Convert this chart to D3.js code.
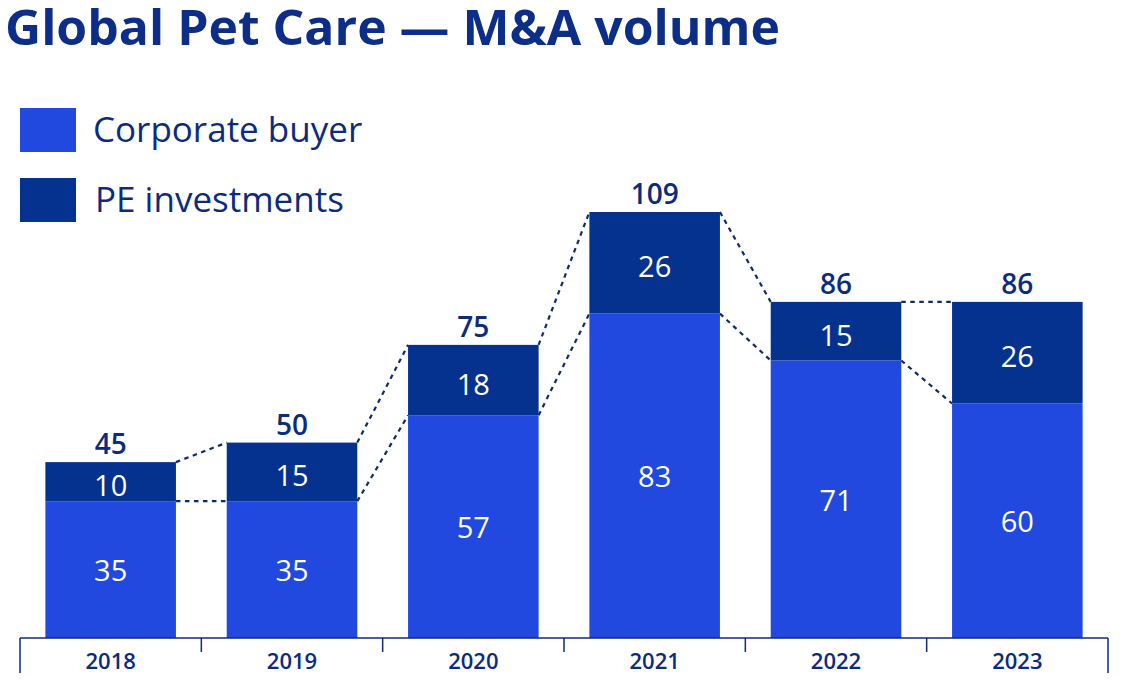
<!DOCTYPE html>
<html><head><meta charset="utf-8">
<script src="https://cdn.jsdelivr.net/npm/d3@7"></script>
<style>body{margin:0;background:#fff}svg{display:block;font-family:"Open Sans",sans-serif}</style>
</head><body><svg id="c" width="1125" height="682"></svg>
<script>
const years = ["2018","2019","2020","2021","2022","2023"];
const corporate = [35,35,57,83,71,60];
const pe = [10,15,18,26,15,26];
const totals = [45,50,75,109,86,86];
const seriesNames = ["Corporate buyer","PE investments"];
const colors = ["#2149E0","#05318F"];
const navy = "#0B2B80";

const svg = d3.select("#c");
const x = d3.scaleBand().domain(years).range([20,1108]).paddingInner(0.28).paddingOuter(0.14);
const y = d3.scaleLinear().domain([0,109]).range([638,212]);

svg.append("text").attr("x",5).attr("y",45).attr("fill","#0C2E88")
  .attr("font-weight",700).attr("font-size",48)
  .attr("textLength",775).attr("lengthAdjust","spacingAndGlyphs")
  .text("Global Pet Care — M&A volume");

// legend
seriesNames.forEach((n,i)=>{
  const yy = 108 + i*70;
  svg.append("rect").attr("x",20).attr("y",yy).attr("width",56).attr("height",44).attr("fill",colors[i]);
  svg.append("text").attr("x",i?95:93).attr("y",yy+34).attr("fill",navy).attr("font-size",35).text(n);
});

const data = years.map((yr,i)=>({yr, c:corporate[i], p:pe[i], t:totals[i]}));

// connectors
const bw = x.bandwidth();
for(let i=0;i<data.length-1;i++){
  const a=data[i], b=data[i+1];
  [[a.t,b.t],[a.c,b.c]].forEach(([v1,v2])=>{
    svg.append("line").attr("x1",x(a.yr)+bw).attr("y1",y(v1)).attr("x2",x(b.yr)).attr("y2",y(v2))
      .attr("stroke","#0B2B6E").attr("stroke-width",2.2).attr("stroke-dasharray","4.5,4.5");
  });
}

// bars
const g = svg.append("g");
g.selectAll(".c").data(data).join("rect").attr("x",d=>x(d.yr)).attr("width",bw)
  .attr("y",d=>y(d.c)).attr("height",d=>y(0)-y(d.c)).attr("fill",colors[0]);
g.selectAll(".p").data(data).join("rect").attr("x",d=>x(d.yr)).attr("width",bw)
  .attr("y",d=>y(d.t)).attr("height",d=>y(d.c)-y(d.t)).attr("fill",colors[1]);

// labels
const lbl = (sel)=>sel.attr("text-anchor","middle").attr("dominant-baseline","central");
lbl(svg.selectAll(".lc").data(data).join("text")).attr("x",d=>x(d.yr)+bw/2)
  .attr("y",d=>(y(0)+y(d.c))/2).attr("fill","#fff").attr("font-size",29).text(d=>d.c);
lbl(svg.selectAll(".lp").data(data).join("text")).attr("x",d=>x(d.yr)+bw/2)
  .attr("y",d=>(y(d.c)+y(d.t))/2+3).attr("fill","#fff").attr("font-size",29).text(d=>d.p);
lbl(svg.selectAll(".lt").data(data).join("text")).attr("x",d=>x(d.yr)+bw/2)
  .attr("y",d=>y(d.t)-19).attr("fill",navy).attr("font-size",28).attr("font-weight",600).text(d=>d.t);

// axis
const ax = svg.append("g").attr("transform","translate(0,638)");
ax.append("line").attr("x1",20).attr("x2",1108).attr("stroke",navy).attr("stroke-width",1.5);
const edges = years.map(yr=>x(yr)-x.step()*x.paddingInner()/2).concat([1108]);
edges[0]=20;
ax.selectAll(".tk").data(edges).join("line").attr("x1",d=>d).attr("x2",d=>d).attr("y1",0)
  .attr("y2",(d,i)=> (i===0||i===edges.length-1)?35:14).attr("stroke",navy).attr("stroke-width",1.5);
ax.selectAll(".tl").data(years).join("text").attr("x",d=>x(d)+bw/2).attr("y",31)
  .attr("text-anchor","middle").attr("fill",navy).attr("font-size",22).attr("font-weight",600).text(d=>d);
</script></body></html>
